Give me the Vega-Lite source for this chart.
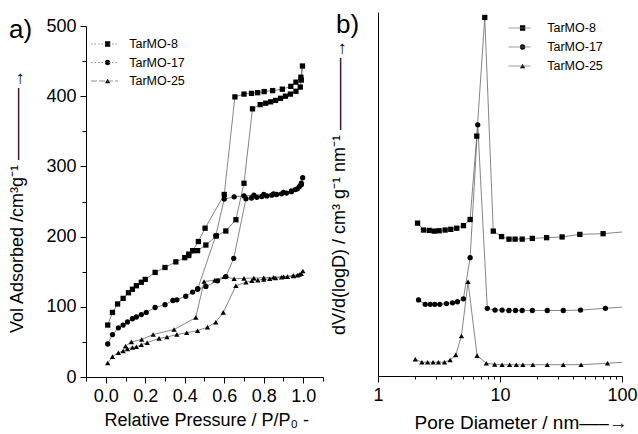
{
  "$schema": "https://vega.github.io/schema/vega-lite/v6.json",
  "padding": {"left": 8, "top": 12, "right": 0, "bottom": 0},
  "bounds": "flush",
  "spacing": 55,
  "resolve": {"scale": {"shape": "independent", "strokeDash": "independent", "color": "independent"}},
  "config": {
    "font": "Liberation Sans",
    "view": {"stroke": null},
    "axis": {"grid": false, "domainColor": "black", "tickColor": "black", "labelColor": "black", "titleColor": "black", "labelFontSize": 18, "titleFontSize": 18, "titleFontWeight": "normal", "labelPadding": 4, "domainWidth": 1, "tickWidth": 1, "labelFlush": false, "labelOverlap": false},
    "legend": {"labelFontSize": 12.5, "labelColor": "black", "padding": 0, "titleColor": "black"}
  },
  "datasets": {
    "iso": [
      {"s": "TarMO-8", "i": 1, "P": 0.01, "V": 74}, {"s": "TarMO-8", "i": 2, "P": 0.034, "V": 92}, {"s": "TarMO-8", "i": 3, "P": 0.06, "V": 104}, {"s": "TarMO-8", "i": 4, "P": 0.088, "V": 112}, {"s": "TarMO-8", "i": 5, "P": 0.115, "V": 120}, {"s": "TarMO-8", "i": 6, "P": 0.135, "V": 125}, {"s": "TarMO-8", "i": 7, "P": 0.155, "V": 130}, {"s": "TarMO-8", "i": 8, "P": 0.18, "V": 135}, {"s": "TarMO-8", "i": 9, "P": 0.2, "V": 139}, {"s": "TarMO-8", "i": 10, "P": 0.25, "V": 149}, {"s": "TarMO-8", "i": 11, "P": 0.3, "V": 156}, {"s": "TarMO-8", "i": 12, "P": 0.355, "V": 164}, {"s": "TarMO-8", "i": 13, "P": 0.4, "V": 170}, {"s": "TarMO-8", "i": 14, "P": 0.42, "V": 173}, {"s": "TarMO-8", "i": 15, "P": 0.465, "V": 180}, {"s": "TarMO-8", "i": 16, "P": 0.507, "V": 188}, {"s": "TarMO-8", "i": 17, "P": 0.56, "V": 201}, {"s": "TarMO-8", "i": 18, "P": 0.608, "V": 208}, {"s": "TarMO-8", "i": 19, "P": 0.659, "V": 224}, {"s": "TarMO-8", "i": 20, "P": 0.70, "V": 276}, {"s": "TarMO-8", "i": 21, "P": 0.743, "V": 382}, {"s": "TarMO-8", "i": 22, "P": 0.782, "V": 388}, {"s": "TarMO-8", "i": 23, "P": 0.81, "V": 390}, {"s": "TarMO-8", "i": 24, "P": 0.835, "V": 392}, {"s": "TarMO-8", "i": 25, "P": 0.86, "V": 394}, {"s": "TarMO-8", "i": 26, "P": 0.885, "V": 397}, {"s": "TarMO-8", "i": 27, "P": 0.91, "V": 400}, {"s": "TarMO-8", "i": 28, "P": 0.935, "V": 403}, {"s": "TarMO-8", "i": 29, "P": 0.963, "V": 407}, {"s": "TarMO-8", "i": 30, "P": 0.985, "V": 413}, {"s": "TarMO-8", "i": 31, "P": 0.99, "V": 423}, {"s": "TarMO-8", "i": 32, "P": 0.996, "V": 443}, {"s": "TarMO-8", "i": 33, "P": 0.988, "V": 427}, {"s": "TarMO-8", "i": 34, "P": 0.963, "V": 420}, {"s": "TarMO-8", "i": 35, "P": 0.937, "V": 414}, {"s": "TarMO-8", "i": 36, "P": 0.894, "V": 410}, {"s": "TarMO-8", "i": 37, "P": 0.845, "V": 408}, {"s": "TarMO-8", "i": 38, "P": 0.802, "V": 406.6}, {"s": "TarMO-8", "i": 39, "P": 0.769, "V": 405}, {"s": "TarMO-8", "i": 40, "P": 0.738, "V": 404}, {"s": "TarMO-8", "i": 41, "P": 0.70, "V": 403}, {"s": "TarMO-8", "i": 42, "P": 0.654, "V": 399}, {"s": "TarMO-8", "i": 43, "P": 0.6, "V": 260}, {"s": "TarMO-8", "i": 44, "P": 0.503, "V": 212}, {"s": "TarMO-8", "i": 45, "P": 0.469, "V": 193}, {"s": "TarMO-8", "i": 46, "P": 0.44, "V": 180}, {"s": "TarMO-8", "i": 47, "P": 0.42, "V": 175},
      {"s": "TarMO-17", "i": 1, "P": 0.01, "V": 47}, {"s": "TarMO-17", "i": 2, "P": 0.034, "V": 60.5}, {"s": "TarMO-17", "i": 3, "P": 0.064, "V": 70}, {"s": "TarMO-17", "i": 4, "P": 0.088, "V": 74}, {"s": "TarMO-17", "i": 5, "P": 0.11, "V": 78.5}, {"s": "TarMO-17", "i": 6, "P": 0.135, "V": 83}, {"s": "TarMO-17", "i": 7, "P": 0.155, "V": 85.5}, {"s": "TarMO-17", "i": 8, "P": 0.18, "V": 89}, {"s": "TarMO-17", "i": 9, "P": 0.205, "V": 92}, {"s": "TarMO-17", "i": 10, "P": 0.25, "V": 99}, {"s": "TarMO-17", "i": 11, "P": 0.3, "V": 103}, {"s": "TarMO-17", "i": 12, "P": 0.34, "V": 109}, {"s": "TarMO-17", "i": 13, "P": 0.36, "V": 110}, {"s": "TarMO-17", "i": 14, "P": 0.405, "V": 115}, {"s": "TarMO-17", "i": 15, "P": 0.465, "V": 125}, {"s": "TarMO-17", "i": 16, "P": 0.507, "V": 129}, {"s": "TarMO-17", "i": 17, "P": 0.566, "V": 137}, {"s": "TarMO-17", "i": 18, "P": 0.608, "V": 143}, {"s": "TarMO-17", "i": 19, "P": 0.648, "V": 169}, {"s": "TarMO-17", "i": 20, "P": 0.71, "V": 254}, {"s": "TarMO-17", "i": 21, "P": 0.738, "V": 255}, {"s": "TarMO-17", "i": 22, "P": 0.765, "V": 256}, {"s": "TarMO-17", "i": 23, "P": 0.79, "V": 257}, {"s": "TarMO-17", "i": 24, "P": 0.815, "V": 258}, {"s": "TarMO-17", "i": 25, "P": 0.84, "V": 259}, {"s": "TarMO-17", "i": 26, "P": 0.865, "V": 260}, {"s": "TarMO-17", "i": 27, "P": 0.89, "V": 261}, {"s": "TarMO-17", "i": 28, "P": 0.915, "V": 262}, {"s": "TarMO-17", "i": 29, "P": 0.94, "V": 264}, {"s": "TarMO-17", "i": 30, "P": 0.96, "V": 267}, {"s": "TarMO-17", "i": 31, "P": 0.98, "V": 271}, {"s": "TarMO-17", "i": 32, "P": 0.99, "V": 276}, {"s": "TarMO-17", "i": 33, "P": 0.997, "V": 284}, {"s": "TarMO-17", "i": 34, "P": 0.99, "V": 274}, {"s": "TarMO-17", "i": 35, "P": 0.97, "V": 268}, {"s": "TarMO-17", "i": 36, "P": 0.94, "V": 265}, {"s": "TarMO-17", "i": 37, "P": 0.9, "V": 263}, {"s": "TarMO-17", "i": 38, "P": 0.85, "V": 261}, {"s": "TarMO-17", "i": 39, "P": 0.8, "V": 260}, {"s": "TarMO-17", "i": 40, "P": 0.75, "V": 259}, {"s": "TarMO-17", "i": 41, "P": 0.7, "V": 258}, {"s": "TarMO-17", "i": 42, "P": 0.65, "V": 256.7}, {"s": "TarMO-17", "i": 43, "P": 0.6, "V": 253.5}, {"s": "TarMO-17", "i": 44, "P": 0.557, "V": 201}, {"s": "TarMO-17", "i": 45, "P": 0.466, "V": 126}, {"s": "TarMO-17", "i": 46, "P": 0.44, "V": 121},
      {"s": "TarMO-25", "i": 1, "P": 0.01, "V": 20}, {"s": "TarMO-25", "i": 2, "P": 0.034, "V": 29}, {"s": "TarMO-25", "i": 3, "P": 0.064, "V": 34.5}, {"s": "TarMO-25", "i": 4, "P": 0.088, "V": 37}, {"s": "TarMO-25", "i": 5, "P": 0.11, "V": 40}, {"s": "TarMO-25", "i": 6, "P": 0.135, "V": 42}, {"s": "TarMO-25", "i": 7, "P": 0.155, "V": 43}, {"s": "TarMO-25", "i": 8, "P": 0.18, "V": 46}, {"s": "TarMO-25", "i": 9, "P": 0.21, "V": 49}, {"s": "TarMO-25", "i": 10, "P": 0.27, "V": 55}, {"s": "TarMO-25", "i": 11, "P": 0.31, "V": 57}, {"s": "TarMO-25", "i": 12, "P": 0.36, "V": 60.5}, {"s": "TarMO-25", "i": 13, "P": 0.41, "V": 63}, {"s": "TarMO-25", "i": 14, "P": 0.465, "V": 66}, {"s": "TarMO-25", "i": 15, "P": 0.515, "V": 71}, {"s": "TarMO-25", "i": 16, "P": 0.557, "V": 78}, {"s": "TarMO-25", "i": 17, "P": 0.595, "V": 92}, {"s": "TarMO-25", "i": 18, "P": 0.659, "V": 130}, {"s": "TarMO-25", "i": 19, "P": 0.71, "V": 135}, {"s": "TarMO-25", "i": 20, "P": 0.74, "V": 137}, {"s": "TarMO-25", "i": 21, "P": 0.77, "V": 138}, {"s": "TarMO-25", "i": 22, "P": 0.8, "V": 139}, {"s": "TarMO-25", "i": 23, "P": 0.83, "V": 140}, {"s": "TarMO-25", "i": 24, "P": 0.86, "V": 141}, {"s": "TarMO-25", "i": 25, "P": 0.89, "V": 142}, {"s": "TarMO-25", "i": 26, "P": 0.92, "V": 143}, {"s": "TarMO-25", "i": 27, "P": 0.95, "V": 144}, {"s": "TarMO-25", "i": 28, "P": 0.97, "V": 145}, {"s": "TarMO-25", "i": 29, "P": 0.99, "V": 147}, {"s": "TarMO-25", "i": 30, "P": 0.998, "V": 151}, {"s": "TarMO-25", "i": 31, "P": 0.98, "V": 146}, {"s": "TarMO-25", "i": 32, "P": 0.95, "V": 144.5}, {"s": "TarMO-25", "i": 33, "P": 0.9, "V": 143}, {"s": "TarMO-25", "i": 34, "P": 0.85, "V": 142}, {"s": "TarMO-25", "i": 35, "P": 0.8, "V": 141.5}, {"s": "TarMO-25", "i": 36, "P": 0.75, "V": 141}, {"s": "TarMO-25", "i": 37, "P": 0.7, "V": 140.5}, {"s": "TarMO-25", "i": 38, "P": 0.65, "V": 140}, {"s": "TarMO-25", "i": 39, "P": 0.6, "V": 143}, {"s": "TarMO-25", "i": 40, "P": 0.552, "V": 138}, {"s": "TarMO-25", "i": 41, "P": 0.498, "V": 136}, {"s": "TarMO-25", "i": 42, "P": 0.456, "V": 84.7}, {"s": "TarMO-25", "i": 43, "P": 0.346, "V": 67.6}, {"s": "TarMO-25", "i": 44, "P": 0.24, "V": 60.5}, {"s": "TarMO-25", "i": 45, "P": 0.182, "V": 53.5}, {"s": "TarMO-25", "i": 46, "P": 0.13, "V": 50}, {"s": "TarMO-25", "i": 47, "P": 0.1, "V": 44}
    ],
    "psd": [
      {"s": "TarMO-8", "D": 2.11, "V": 42}, {"s": "TarMO-8", "D": 2.36, "V": 40.1}, {"s": "TarMO-8", "D": 2.63, "V": 40.0}, {"s": "TarMO-8", "D": 2.89, "V": 39.8}, {"s": "TarMO-8", "D": 3.17, "V": 39.9}, {"s": "TarMO-8", "D": 3.55, "V": 40.1}, {"s": "TarMO-8", "D": 3.95, "V": 40.3}, {"s": "TarMO-8", "D": 4.42, "V": 40.6}, {"s": "TarMO-8", "D": 5.02, "V": 41.3}, {"s": "TarMO-8", "D": 5.69, "V": 43.0}, {"s": "TarMO-8", "D": 6.45, "V": 65.9}, {"s": "TarMO-8", "D": 7.5, "V": 98.5}, {"s": "TarMO-8", "D": 8.81, "V": 39.8}, {"s": "TarMO-8", "D": 10.3, "V": 38.3}, {"s": "TarMO-8", "D": 11.85, "V": 37.6}, {"s": "TarMO-8", "D": 13.3, "V": 37.6}, {"s": "TarMO-8", "D": 15.2, "V": 37.6}, {"s": "TarMO-8", "D": 18.4, "V": 37.8}, {"s": "TarMO-8", "D": 24.1, "V": 38.0}, {"s": "TarMO-8", "D": 32.3, "V": 38.2}, {"s": "TarMO-8", "D": 45.1, "V": 38.9}, {"s": "TarMO-8", "D": 70, "V": 39.1}, {"s": "TarMO-8", "D": 130, "V": 39.9},
      {"s": "TarMO-17", "D": 2.15, "V": 20.9}, {"s": "TarMO-17", "D": 2.44, "V": 19.7}, {"s": "TarMO-17", "D": 2.68, "V": 19.7}, {"s": "TarMO-17", "D": 2.92, "V": 19.7}, {"s": "TarMO-17", "D": 3.21, "V": 19.7}, {"s": "TarMO-17", "D": 3.64, "V": 19.9}, {"s": "TarMO-17", "D": 4.08, "V": 20.1}, {"s": "TarMO-17", "D": 4.48, "V": 20.4}, {"s": "TarMO-17", "D": 5.01, "V": 21.2}, {"s": "TarMO-17", "D": 5.69, "V": 32.5}, {"s": "TarMO-17", "D": 6.57, "V": 69}, {"s": "TarMO-17", "D": 7.87, "V": 18.6}, {"s": "TarMO-17", "D": 9.1, "V": 18.1}, {"s": "TarMO-17", "D": 10.4, "V": 18.1}, {"s": "TarMO-17", "D": 11.85, "V": 18.0}, {"s": "TarMO-17", "D": 13.4, "V": 18.0}, {"s": "TarMO-17", "D": 15.2, "V": 18.0}, {"s": "TarMO-17", "D": 18.4, "V": 18.0}, {"s": "TarMO-17", "D": 24.4, "V": 18.0}, {"s": "TarMO-17", "D": 33, "V": 18.0}, {"s": "TarMO-17", "D": 45.7, "V": 18.1}, {"s": "TarMO-17", "D": 73.1, "V": 18.6}, {"s": "TarMO-17", "D": 130, "V": 19.2},
      {"s": "TarMO-25", "D": 2.02, "V": 4.6}, {"s": "TarMO-25", "D": 2.29, "V": 3.8}, {"s": "TarMO-25", "D": 2.55, "V": 3.8}, {"s": "TarMO-25", "D": 2.83, "V": 3.8}, {"s": "TarMO-25", "D": 3.13, "V": 3.8}, {"s": "TarMO-25", "D": 3.51, "V": 3.8}, {"s": "TarMO-25", "D": 3.9, "V": 4.4}, {"s": "TarMO-25", "D": 4.34, "V": 5.8}, {"s": "TarMO-25", "D": 4.83, "V": 11.0}, {"s": "TarMO-25", "D": 5.47, "V": 25.9}, {"s": "TarMO-25", "D": 6.49, "V": 5.6}, {"s": "TarMO-25", "D": 7.73, "V": 3.5}, {"s": "TarMO-25", "D": 9.05, "V": 3.2}, {"s": "TarMO-25", "D": 10.4, "V": 3.1}, {"s": "TarMO-25", "D": 12.0, "V": 3.1}, {"s": "TarMO-25", "D": 13.6, "V": 3.1}, {"s": "TarMO-25", "D": 15.4, "V": 3.1}, {"s": "TarMO-25", "D": 18.6, "V": 3.1}, {"s": "TarMO-25", "D": 24.4, "V": 3.1}, {"s": "TarMO-25", "D": 33, "V": 3.1}, {"s": "TarMO-25", "D": 46.2, "V": 3.1}, {"s": "TarMO-25", "D": 76, "V": 3.5}, {"s": "TarMO-25", "D": 130, "V": 4.0}
    ]
  },
  "hconcat": [
    {
      "width": 237,
      "height": 365,
      "data": {"name": "iso"},
      "encoding": {
        "x": {"field": "P", "type": "quantitative", "scale": {"domain": [-0.1, 1.1], "nice": false, "zero": false},
          "axis": {"title": "Relative Pressure / P/P₀ -", "values": [-0.1, 0, 0.1, 0.2, 0.3, 0.4, 0.5, 0.6, 0.7, 0.8, 0.9, 1.0, 1.1],
            "labelExpr": "(abs(datum.value*5 - round(datum.value*5)) < 0.01 && datum.value > -0.01 && datum.value < 1.01) ? format(datum.value, '.1f') : ''",
            "tickSize": {"condition": {"test": "abs(datum.value*5 - round(datum.value*5)) < 0.01", "value": 6}, "value": 4},
            "titleX": 18, "titleY": 48, "titleAlign": "left", "titleBaseline": "alphabetic"}},
        "y": {"field": "V", "type": "quantitative", "scale": {"domain": [0, 500], "nice": false, "range": [365, 14]},
          "axis": {"title": "Vol Adsorbed /cm³g⁻¹ ————→", "values": [0, 50, 100, 150, 200, 250, 300, 350, 400, 450, 500],
            "labelExpr": "datum.value % 100 == 0 ? datum.value : ''",
            "tickSize": {"condition": {"test": "datum.value % 100 == 0", "value": 6}, "value": 4},
            "titleX": -69, "titleY": 189, "titleAlign": "center", "titleBaseline": "middle"}}
      },
      "layer": [
        {"mark": {"type": "line", "color": "#666", "strokeWidth": 0.8}, "encoding": {"detail": {"field": "s"}, "order": {"field": "i", "type": "quantitative"}}},
        {"transform": [{"filter": "false"}],
          "mark": {"type": "line", "color": "#777", "strokeWidth": 0.8},
          "encoding": {"strokeDash": {"field": "s", "type": "nominal", "scale": {"domain": ["L8", "L17", "L25"], "range": [[1.5, 2], [1.5, 2], [6, 2]]},
            "legend": {"title": null, "orient": "none", "legendX": 4.5, "legendY": 25.5, "labelExpr": "''", "symbolSize": 729, "clipHeight": 13, "rowPadding": 5.5, "symbolStrokeColor": "#777", "symbolStrokeWidth": 0.8}}}},
        {"mark": {"type": "point", "filled": true, "color": "black", "size": 28, "opacity": 1},
          "encoding": {"shape": {"field": "s", "scale": {"domain": ["TarMO-8", "TarMO-17", "TarMO-25"], "range": ["square", "circle", "triangle-up"]},
            "legend": {"title": null, "orient": "none", "legendX": 15.35, "legendY": 25.5, "labelOffset": 15.4, "symbolSize": 28, "clipHeight": 13, "rowPadding": 5.5, "symbolFillColor": "black", "symbolStrokeColor": "black", "symbolStrokeWidth": 0}}}},
        {"transform": [{"filter": "false"}],
          "mark": {"type": "point", "filled": true, "size": 1},
          "encoding": {"color": {"field": "s", "type": "nominal", "scale": {"domain": ["a"], "range": ["white"]},
            "legend": {"title": "a)", "orient": "none", "legendX": -77, "legendY": 5, "labelExpr": "''", "titleFontSize": 26, "titleFontWeight": "normal", "titlePadding": 0, "symbolSize": 1, "symbolOpacity": 0}}}}
      ],
      "resolve": {"scale": {"color": "independent", "strokeDash": "independent"}}
    },
    {
      "width": 244,
      "height": 364,
      "data": {"name": "psd"},
      "encoding": {
        "x": {"field": "D", "type": "quantitative", "scale": {"type": "log", "domain": [1, 100], "nice": false},
          "axis": {"title": "Pore Diameter / nm—–→", "titleFontSize": 19, "values": [1, 2, 3, 4, 5, 6, 7, 8, 9, 10, 20, 30, 40, 50, 60, 70, 80, 90, 100],
            "labelExpr": "(datum.value == 1 || datum.value == 10 || datum.value == 100) ? datum.value : ''",
            "tickSize": {"condition": {"test": "datum.value == 1 || datum.value == 10 || datum.value == 100", "value": 6}, "value": 3},
            "titleX": 36, "titleY": 52, "titleAlign": "left", "titleBaseline": "alphabetic"}},
        "y": {"field": "V", "type": "quantitative", "scale": {"domain": [0, 100], "nice": false},
          "axis": {"title": "dV/d(logD) / cm³ g⁻¹ nm⁻¹ ————→", "ticks": false, "labels": false,
            "titleX": -39, "titleY": 175, "titleAlign": "center", "titleBaseline": "middle"}}
      },
      "layer": [
        {"mark": {"type": "line", "color": "#666", "strokeWidth": 0.8, "clip": true}, "encoding": {"detail": {"field": "s"}}},
        {"transform": [{"filter": "false"}],
          "mark": {"type": "line", "color": "#777", "strokeWidth": 0.8},
          "encoding": {"strokeDash": {"field": "s", "type": "nominal", "scale": {"domain": ["M8", "M17", "M25"], "range": [[1, 0], [1, 0], [1, 0]]},
            "legend": {"title": null, "orient": "none", "legendX": 130, "legendY": 9.5, "labelExpr": "''", "symbolSize": 484, "clipHeight": 13, "rowPadding": 6, "symbolStrokeColor": "#777", "symbolStrokeWidth": 0.8}}}},
        {"mark": {"type": "point", "filled": true, "color": "black", "size": 28, "opacity": 1, "clip": true},
          "encoding": {"shape": {"field": "s", "scale": {"domain": ["TarMO-8", "TarMO-17", "TarMO-25"], "range": ["square", "circle", "triangle-up"]},
            "legend": {"title": null, "orient": "none", "legendX": 138.35, "legendY": 9.5, "labelOffset": 18.4, "symbolSize": 28, "clipHeight": 13, "rowPadding": 6, "symbolFillColor": "black", "symbolStrokeColor": "black", "symbolStrokeWidth": 0}}}},
        {"transform": [{"filter": "false"}],
          "mark": {"type": "point", "filled": true, "size": 1},
          "encoding": {"color": {"field": "s", "type": "nominal", "scale": {"domain": ["b"], "range": ["white"]},
            "legend": {"title": "b)", "orient": "none", "legendX": -42, "legendY": 0, "labelExpr": "''", "titleFontSize": 26, "titleFontWeight": "normal", "titlePadding": 0, "symbolSize": 1, "symbolOpacity": 0}}}}
      ],
      "resolve": {"scale": {"color": "independent", "strokeDash": "independent"}}
    }
  ]
}
